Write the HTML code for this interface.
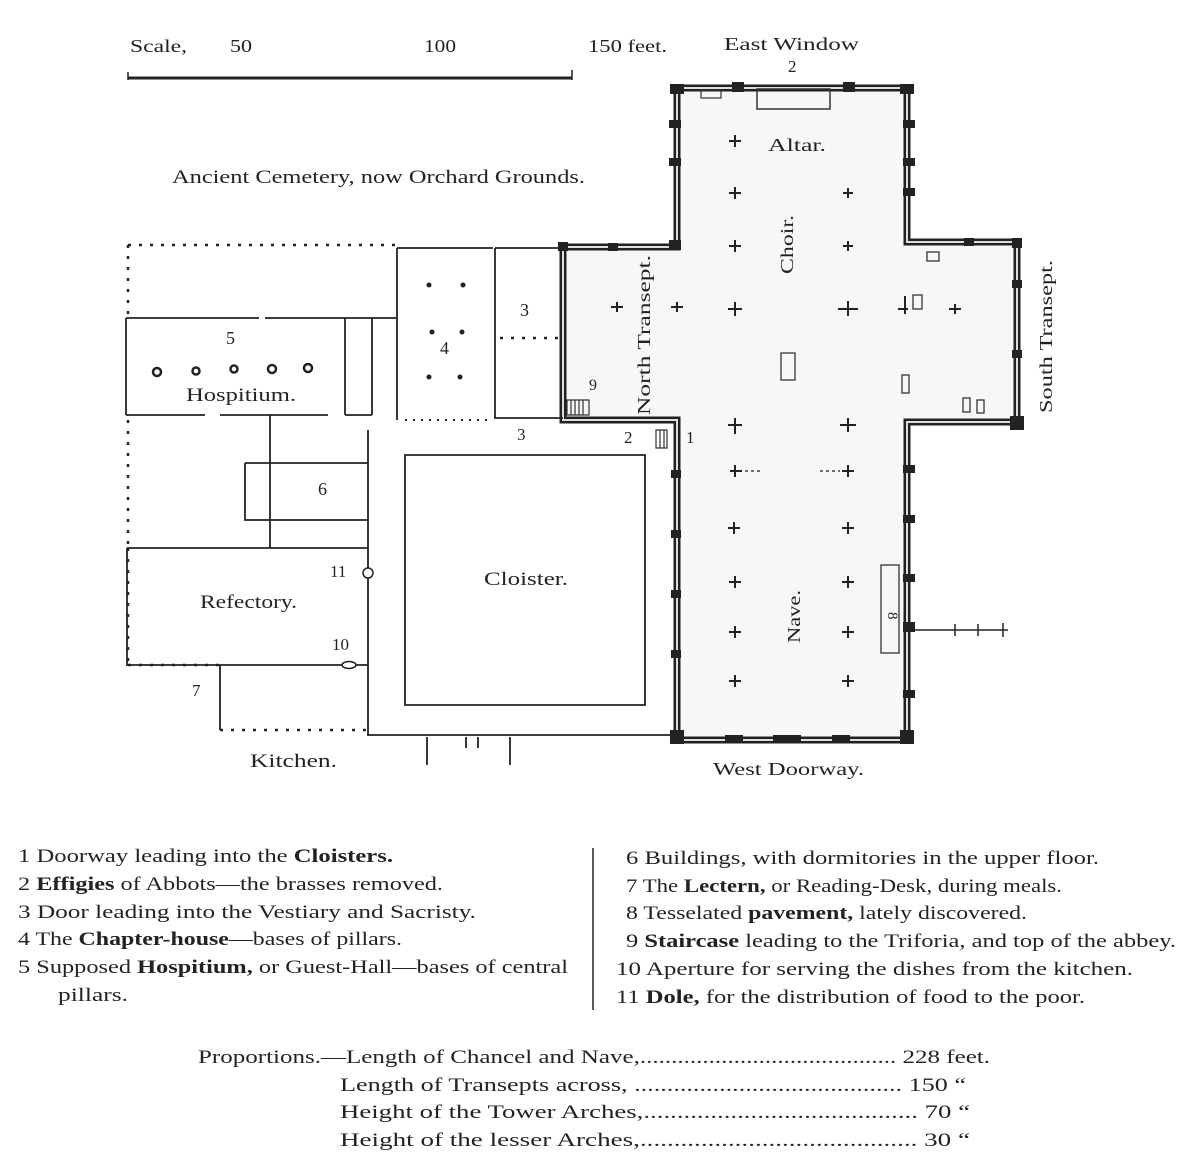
<!DOCTYPE html>
<html><head><meta charset="utf-8"><style>
html,body{margin:0;padding:0;background:#fff;}
svg{display:block;}
text{font-family:"Liberation Serif",serif;fill:#222;}
.lg{font-size:19px;}
</style></head><body>
<svg width="1200" height="1170" viewBox="0 0 1200 1170" xmlns="http://www.w3.org/2000/svg">
<!-- scale -->
<text x="130" y="52" font-size="18" textLength="57" lengthAdjust="spacingAndGlyphs">Scale,</text>
<text x="230" y="52" font-size="18" textLength="22" lengthAdjust="spacingAndGlyphs">50</text>
<text x="424" y="52" font-size="18" textLength="32" lengthAdjust="spacingAndGlyphs">100</text>
<text x="588" y="52" font-size="18" textLength="79" lengthAdjust="spacingAndGlyphs">150 feet.</text>
<line x1="128" y1="78" x2="572" y2="78" stroke="#222" stroke-width="3"/>
<line x1="572" y1="70" x2="572" y2="80" stroke="#222" stroke-width="1.5"/>
<line x1="128" y1="72" x2="128" y2="80" stroke="#222" stroke-width="1.5"/>
<text x="724" y="50" font-size="18" textLength="135" lengthAdjust="spacingAndGlyphs">East Window</text>
<text x="788" y="72" font-size="17">2</text>
<text x="172" y="183" font-size="19" textLength="413" lengthAdjust="spacingAndGlyphs">Ancient Cemetery, now Orchard Grounds.</text>

<!-- church floor -->
<path d="M677 88 H907 V242 H1017 V422 H907 V740 H677 V420 H563 V247 H677 Z" fill="#f7f7f7"/>
<g fill="none" stroke="#222" stroke-width="7">
<path d="M677 88 H907 V242 H1017 V422 H907 V740 H677 V420 H563 V247 H677 Z"/>
</g>
<g fill="none" stroke="#ddd" stroke-width="2">
<path d="M677 88 H907 V242 H1017 V422 H907 V740 H677 V420 H563 V247 H677 Z"/>
</g>
<g fill="#222">
<rect x="670" y="84" width="14" height="10"/><rect x="732" y="82" width="12" height="10"/><rect x="843" y="82" width="12" height="10"/><rect x="900" y="84" width="14" height="10"/>
<rect x="669" y="120" width="12" height="8"/><rect x="669" y="158" width="12" height="8"/><rect x="669" y="240" width="12" height="10"/>
<rect x="903" y="120" width="12" height="8"/><rect x="903" y="158" width="12" height="8"/><rect x="903" y="188" width="12" height="8"/>
<rect x="608" y="243" width="10" height="8"/><rect x="558" y="242" width="10" height="9"/>
<rect x="1012" y="238" width="10" height="10"/><rect x="1012" y="280" width="10" height="8"/><rect x="1012" y="350" width="10" height="8"/><rect x="1010" y="416" width="14" height="14"/>
<rect x="964" y="238" width="10" height="8"/>
<rect x="670" y="730" width="14" height="14"/><rect x="900" y="730" width="14" height="14"/><rect x="725" y="735" width="18" height="8"/><rect x="773" y="735" width="28" height="8"/><rect x="832" y="735" width="18" height="8"/>
<rect x="903" y="465" width="12" height="8"/><rect x="903" y="515" width="12" height="8"/><rect x="903" y="574" width="12" height="8"/><rect x="903" y="622" width="12" height="10"/><rect x="903" y="690" width="12" height="8"/>
<rect x="671" y="470" width="10" height="8"/><rect x="671" y="530" width="10" height="8"/><rect x="671" y="590" width="10" height="8"/><rect x="671" y="650" width="10" height="8"/>
</g>
<rect x="757" y="89" width="73" height="20" fill="none" stroke="#333" stroke-width="1.5"/>
<rect x="701" y="90" width="20" height="8" fill="none" stroke="#333" stroke-width="1.2"/>
<g stroke="#222" stroke-width="2">
<path d="M729 141h12M735 135v12 M729 193h12M735 187v12 M843 193h10M848 188v10 M729 246h12M735 240v12 M843 246h10M848 241v10 M728 309h14M735 302v14 M838 309h20M848 301v15 M611 307h12M617 302v10 M671 307h12M677 302v10 M949 309h12M955 304v10 M898 309h10M905 296v18 M728 425h14M735 418v16 M840 425h16M848 418v14 M730 471h12M735 465v12 M842 471h12M848 465v12 M728 528h12M734 522v12 M842 528h12M848 522v12 M729 582h12M735 576v12 M842 582h12M848 576v12 M729 632h12M735 626v12 M842 632h12M848 626v12 M729 681h12M735 675v12 M842 681h12M848 675v12"/>
</g>
<g stroke="#444" stroke-width="1.5" stroke-dasharray="3 3"><path d="M745 471h18M820 471h20"/></g>
<g fill="none" stroke="#333" stroke-width="1.3">
<rect x="781" y="353" width="14" height="27"/><rect x="913" y="295" width="9" height="14"/><rect x="902" y="375" width="7" height="18"/><rect x="963" y="398" width="7" height="14"/><rect x="977" y="400" width="7" height="13"/><rect x="927" y="252" width="12" height="9"/>
<rect x="881" y="565" width="18" height="88"/>
</g>
<text x="888" y="612" font-size="15" transform="rotate(90 888 612)">8</text>
<path d="M909 630H1008M955 624v12M978 624v12M1003 623v14" stroke="#222" stroke-width="1.5"/>
<text x="768" y="151" font-size="18" textLength="58" lengthAdjust="spacingAndGlyphs">Altar.</text>
<text x="793" y="274" font-size="18" transform="rotate(-90 793 274)" textLength="59" lengthAdjust="spacingAndGlyphs">Choir.</text>
<text x="800" y="643" font-size="18" transform="rotate(-90 800 643)" textLength="53" lengthAdjust="spacingAndGlyphs">Nave.</text>
<text x="650" y="415" font-size="18" transform="rotate(-90 650 415)" textLength="160" lengthAdjust="spacingAndGlyphs">North Transept.</text>
<text x="1052" y="413" font-size="18" transform="rotate(-90 1052 413)" textLength="153" lengthAdjust="spacingAndGlyphs">South Transept.</text>
<text x="713" y="775" font-size="18" textLength="151" lengthAdjust="spacingAndGlyphs">West Doorway.</text>
<text x="589" y="390" font-size="16">9</text>
<path d="M567 400h22v15h-22z M571 400v15M575 400v15M579 400v15M583 400v15" fill="none" stroke="#333" stroke-width="1.2"/>
<text x="624" y="443" font-size="17">2</text>
<text x="686" y="443" font-size="17">1</text>
<path d="M656 430h11v18h-11z M660 430v18M664 430v18" fill="none" stroke="#333" stroke-width="1.2"/>
<text x="517" y="440" font-size="17">3</text>

<!-- left buildings -->
<g fill="none" stroke="#222" stroke-width="1.8">
<path d="M397 248V420 M397 248H493 M495 248V418H563 M495 248H563"/>
<path d="M126 318V415 M126 318H259 M265 318H397 M345 318V415 M372 318V415"/>
<path d="M126 415H205 M220 415H328 M345 415H372"/>
<path d="M270 415V548 M245 463H368 M245 463V520H368"/>
<path d="M368 430V735H677 M127 548H368 M127 548V665H368"/>
<path d="M220 665V730 M405 455H645V705H405Z"/>
<path d="M427 737V765M466 737V748M478 737V748M510 737V765"/>
</g>
<g fill="none" stroke="#222" stroke-width="2.5" stroke-dasharray="3 8">
<path d="M128 245H395 M128 245V318 M128 420V548 M128 548V665 M220 730H368 M128 665H220"/>
<path d="M500 338h60"/>
</g>
<path d="M405 420H490" stroke="#222" stroke-width="2" stroke-dasharray="2 6"/>
<g fill="#222">
<circle cx="429" cy="285" r="2.5"/><circle cx="463" cy="285" r="2.5"/><circle cx="432" cy="332" r="2.5"/><circle cx="462" cy="332" r="2.5"/><circle cx="429" cy="377" r="2.5"/><circle cx="460" cy="377" r="2.5"/>
</g>
<g fill="none" stroke="#222" stroke-width="2.5">
<circle cx="157" cy="372" r="4"/><circle cx="196" cy="371" r="3.5"/><circle cx="234" cy="369" r="3.5"/><circle cx="272" cy="369" r="4"/><circle cx="308" cy="368" r="4"/>
</g>
<circle cx="368" cy="573" r="5" fill="#fff" stroke="#222" stroke-width="1.5"/>
<ellipse cx="349" cy="665" rx="7" ry="3.5" fill="#fff" stroke="#222" stroke-width="1.5"/>
<text x="226" y="344" font-size="18">5</text>
<text x="186" y="401" font-size="19" textLength="110" lengthAdjust="spacingAndGlyphs">Hospitium.</text>
<text x="440" y="354" font-size="18">4</text>
<text x="520" y="316" font-size="18">3</text>
<text x="318" y="495" font-size="18">6</text>
<text x="484" y="585" font-size="19" textLength="84" lengthAdjust="spacingAndGlyphs">Cloister.</text>
<text x="200" y="608" font-size="19" textLength="97" lengthAdjust="spacingAndGlyphs">Refectory.</text>
<text x="330" y="577" font-size="17">11</text>
<text x="332" y="650" font-size="17">10</text>
<text x="192" y="696" font-size="17">7</text>
<text x="250" y="767" font-size="19" textLength="87" lengthAdjust="spacingAndGlyphs">Kitchen.</text>

<!-- legend -->
<g class="lg">
<text x="18" y="862" textLength="375" lengthAdjust="spacingAndGlyphs">1 Doorway leading into the <tspan font-weight="bold">Cloisters.</tspan></text>
<text x="18" y="890" textLength="425" lengthAdjust="spacingAndGlyphs">2 <tspan font-weight="bold">Effigies</tspan> of Abbots—the brasses removed.</text>
<text x="18" y="918" textLength="458" lengthAdjust="spacingAndGlyphs">3 Door leading into the Vestiary and Sacristy.</text>
<text x="18" y="945" textLength="384" lengthAdjust="spacingAndGlyphs">4 The <tspan font-weight="bold">Chapter-house</tspan>—bases of pillars.</text>
<text x="18" y="973" textLength="550" lengthAdjust="spacingAndGlyphs">5 Supposed <tspan font-weight="bold">Hospitium,</tspan> or Guest-Hall—bases of central</text>
<text x="58" y="1001" textLength="70" lengthAdjust="spacingAndGlyphs">pillars.</text>
<text x="626" y="864" textLength="473" lengthAdjust="spacingAndGlyphs">6 Buildings, with dormitories in the upper floor.</text>
<text x="626" y="892" textLength="436" lengthAdjust="spacingAndGlyphs">7 The <tspan font-weight="bold">Lectern,</tspan> or Reading-Desk, during meals.</text>
<text x="626" y="919" textLength="401" lengthAdjust="spacingAndGlyphs">8 Tesselated <tspan font-weight="bold">pavement,</tspan> lately discovered.</text>
<text x="626" y="947" textLength="550" lengthAdjust="spacingAndGlyphs">9 <tspan font-weight="bold">Staircase</tspan> leading to the Triforia, and top of the abbey.</text>
<text x="616" y="975" textLength="517" lengthAdjust="spacingAndGlyphs">10 Aperture for serving the dishes from the kitchen.</text>
<text x="616" y="1003" textLength="469" lengthAdjust="spacingAndGlyphs">11 <tspan font-weight="bold">Dole,</tspan> for the distribution of food to the poor.</text>
</g>
<line x1="593" y1="848" x2="593" y2="1010" stroke="#222" stroke-width="1.5"/>
<g class="lg">
<text x="198" y="1063" textLength="792" lengthAdjust="spacingAndGlyphs">Proportions.—Length of Chancel and Nave,......................................... 228 feet.</text>
<text x="340" y="1091" textLength="626" lengthAdjust="spacingAndGlyphs">Length of Transepts across, ......................................... 150  “</text>
<text x="340" y="1118" textLength="630" lengthAdjust="spacingAndGlyphs">Height of the Tower Arches,......................................... 70  “</text>
<text x="340" y="1146" textLength="630" lengthAdjust="spacingAndGlyphs">Height of the lesser Arches,......................................... 30  “</text>
</g>
</svg>
</body></html>
